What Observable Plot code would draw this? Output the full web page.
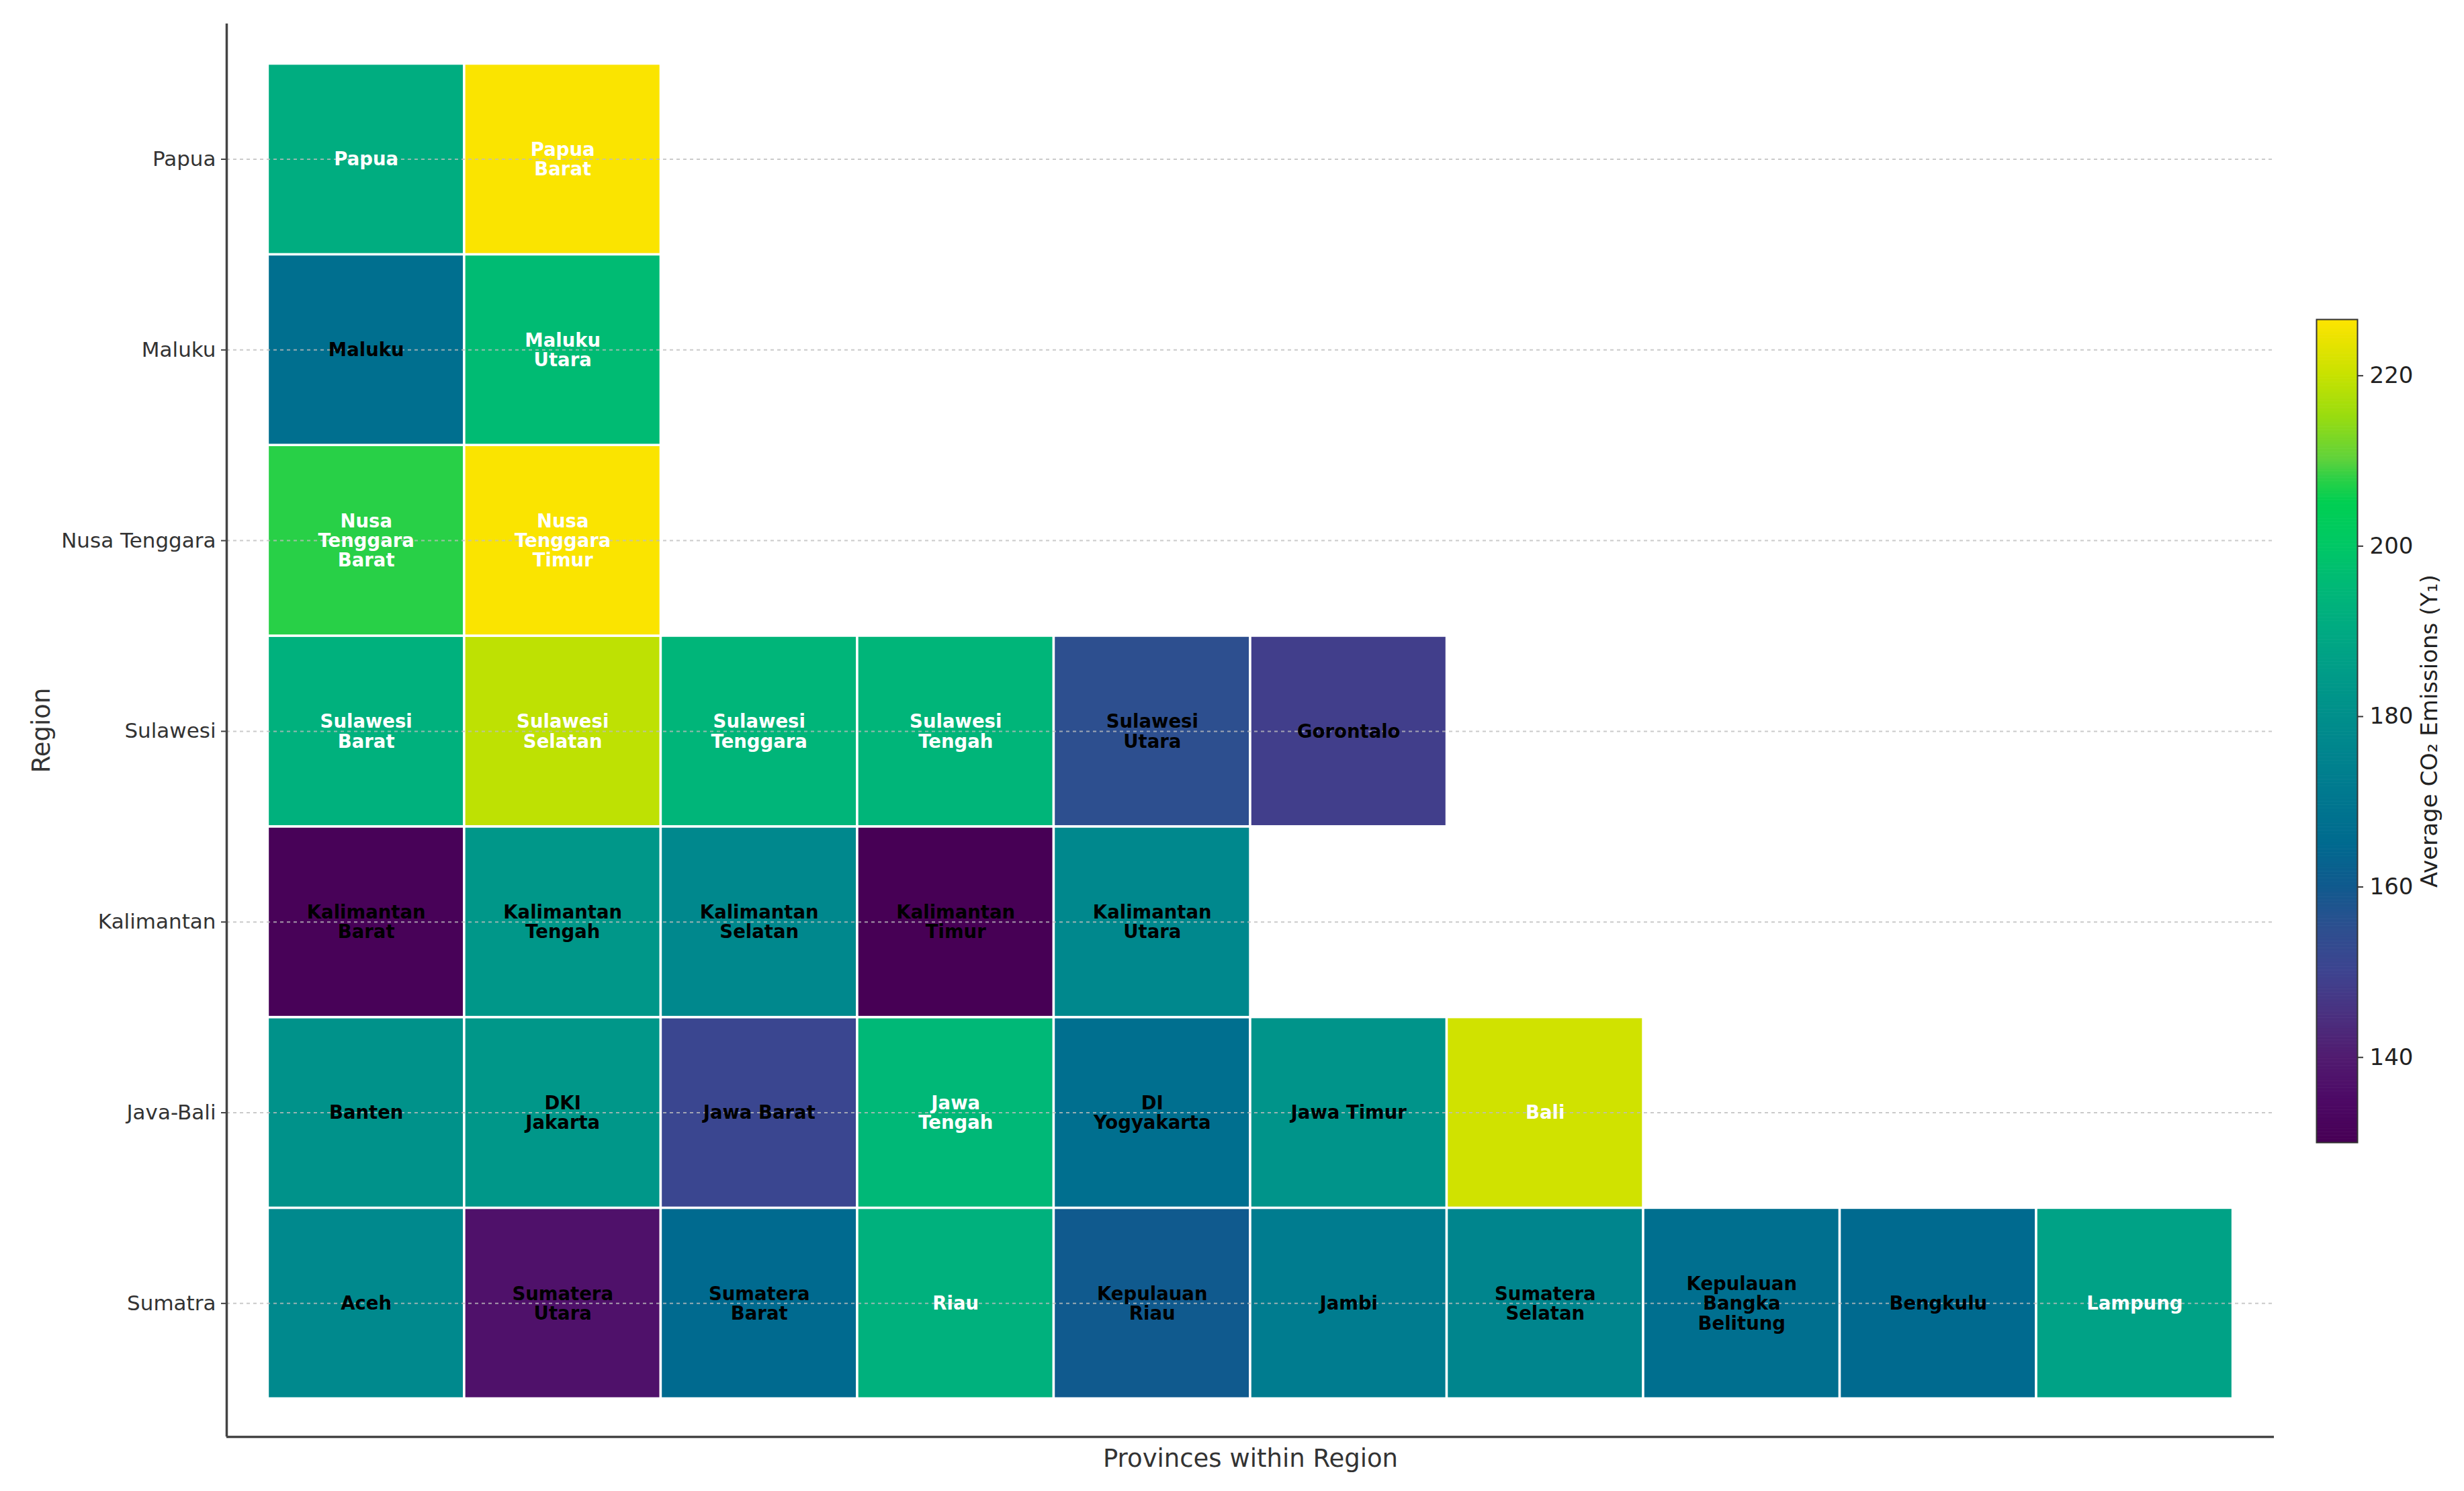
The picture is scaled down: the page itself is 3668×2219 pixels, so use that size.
<!DOCTYPE html>
<html>
<head>
<meta charset="utf-8">
<script src="https://cdn.jsdelivr.net/npm/d3@7"></script>
<script src="https://cdn.jsdelivr.net/npm/@observablehq/plot@0.6"></script>
<style>
  html, body { margin: 0; padding: 0; background: #fff; }
  #wrap { position: relative; width: 3668px; height: 2219px; overflow: hidden; font-family: "DejaVu Sans", sans-serif; }
  #wrap svg { position: absolute; top: 0; }
</style>
</head>
<body>
<div id="wrap"></div>
<script>
// ---- Data ----
const regions = ["Sumatra", "Java-Bali", "Kalimantan", "Sulawesi", "Nusa Tenggara", "Maluku", "Papua"];

const sumatraProvinces = ["Aceh", "Sumatera Utara", "Sumatera Barat", "Riau", "Kepulauan Riau", "Jambi", "Sumatera Selatan", "Kepulauan Bangka Belitung", "Bengkulu", "Lampung"];
const sumatraValues = [177.5, 137, 165, 192.5, 160, 172, 176, 167, 165, 187];

const javaBaliProvinces = ["Banten", "DKI Jakarta", "Jawa Barat", "Jawa Tengah", "DI Yogyakarta", "Jawa Timur", "Bali"];
const javaBaliValues = [181, 183, 151, 195, 167, 182, 221];

const kalimantanProvinces = ["Kalimantan Barat", "Kalimantan Tengah", "Kalimantan Selatan", "Kalimantan Timur", "Kalimantan Utara"];
const kalimantanValues = [131, 183, 177, 130, 177];

const sulawesiProvinces = ["Sulawesi Barat", "Sulawesi Selatan", "Sulawesi Tenggara", "Sulawesi Tengah", "Sulawesi Utara", "Gorontalo"];
const sulawesiValues = [192.5, 219, 194, 194, 155, 148.5];

const nusaTenggaraProvinces = ["Nusa Tenggara Barat", "Nusa Tenggara Timur"];
const nusaTenggaraValues = [207.5, 226];

const malukuProvinces = ["Maluku", "Maluku Utara"];
const malukuValues = [167, 196];

const papuaProvinces = ["Papua", "Papua Barat"];
const papuaValues = [191, 226];

const colorbarTicks = [140, 160, 180, 200, 220];
const colorDomain = [130, 226.6];

// ---- Style: colormap as seen in the reference colorbar ----
const cmapValues = [130, 135, 140, 145, 150, 155, 160, 165, 170, 175, 180, 185, 190, 195, 200, 205, 208, 210, 215, 220, 226.6];
const cmapColors = ["#470055", "#4d0a66", "#511c70", "#4a3180", "#3d4490", "#2d4f8f", "#105a8e", "#006a8f", "#00778f", "#00838e", "#008f8b", "#009c88", "#00aa82", "#00b877", "#00c865", "#00cf52", "#30d045", "#5ed23c", "#98dc10", "#c8e200", "#ffe400"];
const cmapScale = d3.scaleLinear().domain(cmapValues).range(cmapColors).interpolate(d3.interpolateRgb).clamp(true);
const interp = t => cmapScale(colorDomain[0] + t * (colorDomain[1] - colorDomain[0]));

// ---- Build table ----
const provinceLists = [sumatraProvinces, javaBaliProvinces, kalimantanProvinces, sulawesiProvinces, nusaTenggaraProvinces, malukuProvinces, papuaProvinces];
const valueLists = [sumatraValues, javaBaliValues, kalimantanValues, sulawesiValues, nusaTenggaraValues, malukuValues, papuaValues];

function wrap(s, width) {
  const words = s.split(" ");
  const lines = [];
  let cur = "";
  for (const w of words) {
    if (cur === "") cur = w;
    else if ((cur + " " + w).length <= width) cur += " " + w;
    else { lines.push(cur); cur = w; }
  }
  if (cur) lines.push(cur);
  return lines.join("\n");
}

const cells = [];
provinceLists.forEach((list, r) => {
  list.forEach((name, c) => {
    cells.push({region: regions[r], row: r, col: c, name, label: wrap(name, 10), value: valueLists[r][c]});
  });
});

const xDomain = [-0.71, 9.71];
const yDomain = [-0.7, 6.71];
const font = "DejaVu Sans";

const main = Plot.plot({
  width: 3420,
  height: 2219,
  marginLeft: 337,
  marginRight: 35,
  marginTop: 35,
  marginBottom: 81,
  style: {fontFamily: font, background: "white", color: "#333", fontSize: "37px"},
  x: {domain: xDomain, axis: null},
  y: {domain: yDomain, axis: null},
  color: {type: "linear", domain: colorDomain, interpolate: interp},
  marks: [
    Plot.rect(cells, {
      x1: d => d.col - 0.5, x2: d => d.col + 0.5,
      y1: d => d.row - 0.5, y2: d => d.row + 0.5,
      fill: "value", stroke: "white", strokeWidth: 3.5
    }),
    Plot.ruleY(d3.range(regions.length), {stroke: "#bdbdbd", strokeWidth: 2, strokeDasharray: "5,5", strokeOpacity: 0.8}),
    Plot.text(cells, {
      x: "col", y: "row", text: "label",
      fill: d => d.value > 185 ? "white" : "black",
      fontWeight: "bold", fontSize: 27.5, lineHeight: 1.07, fontFamily: font
    }),
    Plot.axisY({
      ticks: d3.range(regions.length), tickFormat: i => regions[i],
      tickSize: 8, tickPadding: 8, fontSize: 31, stroke: "#444", strokeWidth: 2, fill: "#333",
      label: null
    }),
    Plot.axisY({
      ticks: [], tickSize: 0, fontSize: 37, fill: "#333",
      label: "Region", labelAnchor: "center", labelArrow: "none", labelOffset: 290
    }),
    Plot.axisX({ticks: [], tickSize: 0, label: "Provinces within Region", labelAnchor: "center", labelArrow: "none", labelOffset: 44, fontSize: 37, fill: "#333"}),
    Plot.ruleX([xDomain[0]], {stroke: "#444", strokeWidth: 3.5}),
    Plot.ruleY([yDomain[0]], {stroke: "#444", strokeWidth: 3.5})
  ]
});
main.style.left = "0px";

// ---- Colorbar ----
const steps = d3.range(colorDomain[0], colorDomain[1], 0.2);
const bar = Plot.plot({
  width: 230,
  height: 2219,
  marginLeft: 10,
  marginRight: 159,
  marginTop: 475,
  marginBottom: 519,
  style: {fontFamily: font, background: "transparent", color: "#222", fontSize: "34px"},
  x: {axis: null},
  y: {domain: colorDomain, axis: null},
  color: {type: "linear", domain: colorDomain, interpolate: interp},
  marks: [
    Plot.rect(steps, {y1: d => d, y2: d => Math.min(d + 0.25, colorDomain[1]), fill: d => d}),
    Plot.frame({stroke: "#333", strokeWidth: 2}),
    Plot.axisY({
      anchor: "right", ticks: colorbarTicks, tickSize: 8, tickPadding: 10, fontSize: 34,
      stroke: "#333", strokeWidth: 2, fill: "#222",
      label: "Average CO₂ Emissions (Y₁)", labelAnchor: "center", labelArrow: "none", labelOffset: 118
    })
  ]
});
bar.style.left = "3438px";

const wrapEl = document.getElementById("wrap");
wrapEl.appendChild(main);
wrapEl.appendChild(bar);
</script>
</body>
</html>
